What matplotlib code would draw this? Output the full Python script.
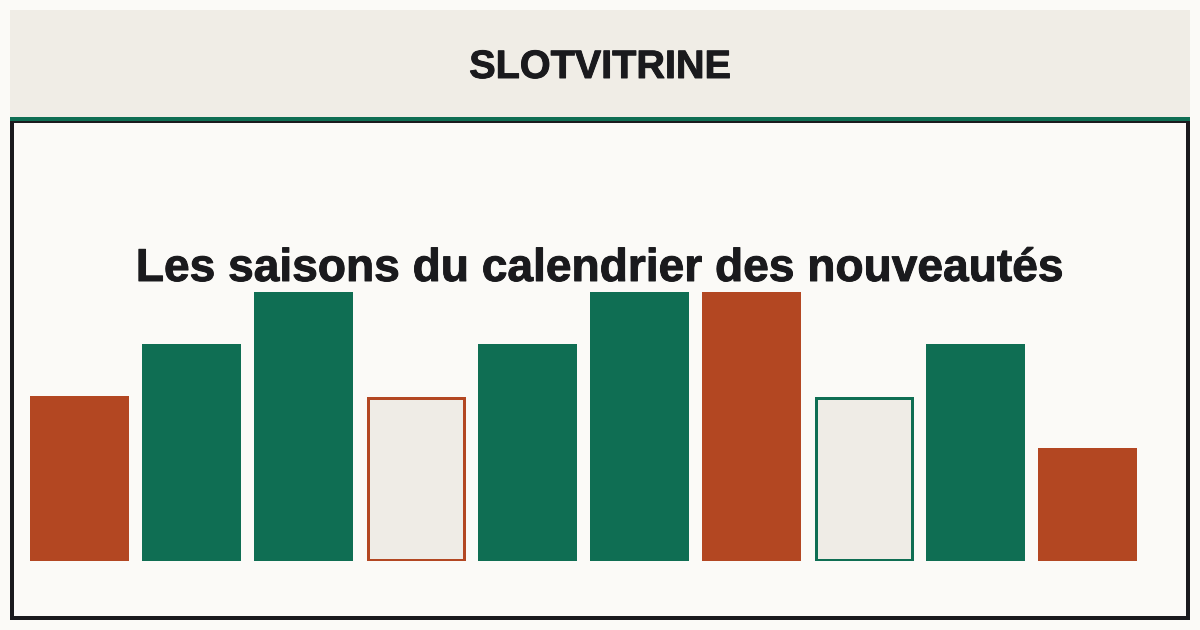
import matplotlib
matplotlib.use("Agg")
from matplotlib import pyplot as plt
from matplotlib.patches import Rectangle
import matplotlib.patheffects as pe
import numpy as np

plt.rcParams['font.family'] = ['Liberation Sans', 'DejaVu Sans']

brand = "SLOTVITRINE"
title = "Les saisons du calendrier des nouveautés"

# one bar per slot (relative release level)
slots = list(range(10))
levels = [3, 4, 5, 3, 4, 5, 5, 3, 4, 2]
styles = ['orange', 'green', 'green', 'orange_open', 'green',
          'green', 'orange', 'green_open', 'green', 'orange']

BG = '#fbfaf7'
HEADER = '#f0ede6'
GREEN = '#0f6e53'
ORANGE = '#b34722'
OPEN_FILL = '#efece6'
DARK = '#1a1a1d'

W, H = 1200, 630
fig = plt.figure(figsize=(12, 6.3), dpi=100)
fig.patch.set_facecolor(BG)

def px(x0, y0, x1, y1):
    # pixel box (top-left origin) -> figure fraction rect
    return [x0 / W, 1 - y1 / H, (x1 - x0) / W, (y1 - y0) / H]

# header band
fig.patches.append(Rectangle((10 / W, 1 - 117 / H), 1180 / W, 107 / H,
                             transform=fig.transFigure, facecolor=HEADER,
                             edgecolor='none', zorder=0))
# dark frame around the chart
fig.patches.append(Rectangle((12 / W, 1 - 618 / H), 1176 / W, 497 / H,
                             transform=fig.transFigure, facecolor='none',
                             edgecolor=DARK, linewidth=4 * 72 / 100, zorder=1))
# green rule under the header
fig.patches.append(Rectangle((10 / W, 1 - 121 / H), 1180 / W, 4 / H,
                             transform=fig.transFigure, facecolor=GREEN,
                             edgecolor='none', zorder=2))

heavy = [pe.withStroke(linewidth=0.7, foreground=DARK)]
fig.text(0.5, 1 - 78 / H, brand, ha='center', va='baseline',
         fontsize=28.5, fontweight='bold', color=DARK, path_effects=heavy)

# bars
ax = fig.add_axes(px(23.5, 121, 1143.5, 561))
ax.set_facecolor('none')
unit = 52.0  # px per level
base = 9 / unit
ax.set_xlim(-0.5, 9.5)
ax.set_ylim(0, 440 / unit)
ax.axis('off')

width = 99 / 112
heights = np.array(levels) + base
for x, h, s in zip(slots, heights, styles):
    if s.endswith('_open'):
        edge = ORANGE if s.startswith('orange') else GREEN
        shrink_x = 3 / 112
        shrink_y = 1.5 / unit
        ax.bar(x, h - 2 * shrink_y, width=width - shrink_x, bottom=shrink_y,
               color=OPEN_FILL, edgecolor=edge, linewidth=3 * 72 / 100)
    else:
        ax.bar(x, h, width=width, color=ORANGE if s == 'orange' else GREEN,
               linewidth=0)

fig.text(0.5, 1 - 281 / H, title, ha='center', va='baseline',
         fontsize=33.2, fontweight='bold', color=DARK, zorder=5,
         path_effects=heavy)

plt.savefig('out.png', dpi=100, facecolor=BG)
